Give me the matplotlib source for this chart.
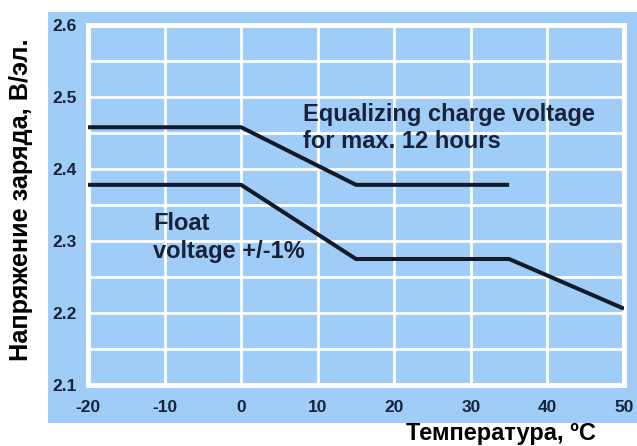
import matplotlib
matplotlib.use("Agg")
import matplotlib.pyplot as plt
from matplotlib.patches import Rectangle

# Data
eq_temp = [-20, 0, 15, 35]
eq_volt = [2.458, 2.458, 2.378, 2.378]
fl_temp = [-20, 0, 15, 35, 50]
fl_volt = [2.378, 2.378, 2.275, 2.275, 2.206]
x_ticks = [-20, -10, 0, 10, 20, 30, 40, 50]
y_ticks = [2.1, 2.2, 2.3, 2.4, 2.5, 2.6]
y_grid = [2.15, 2.25, 2.35, 2.45, 2.55]

W, H = 637, 446
BLUE = "#9fcdf8"
NAVY = "#18223a"
plt.rcParams['font.family'] = ['Liberation Sans', 'DejaVu Sans']

fig = plt.figure(figsize=(W / 100, H / 100), dpi=100)
fig.patch.set_facecolor("white")
bg = Rectangle((48 / W, (H - 423) / H), (W - 48) / W, (423 - 12) / H,
               transform=fig.transFigure, facecolor=BLUE,
               edgecolor="none", zorder=-10)
fig.patches.append(bg)

ax = fig.add_axes([88 / W, (H - 385) / H, (624 - 88) / W, (385 - 25) / H])
ax.set_zorder(1)
ax.set_facecolor(BLUE)
ax.set_xlim(-20, 50)
ax.set_ylim(2.1, 2.6)

for x in x_ticks[1:-1]:
    ax.axvline(x, color="white", lw=2, zorder=1)
for y in y_ticks[1:-1] + y_grid:
    ax.axhline(y, color="white", lw=2, zorder=1)
for s in ax.spines.values():
    s.set_color("white")
    s.set_linewidth(3.5)

ax.plot(eq_temp, eq_volt, color="#141b28", lw=2.9, zorder=3, solid_capstyle="butt")
ax.plot(fl_temp, fl_volt, color="#141b28", lw=2.9, zorder=3, solid_capstyle="butt")

ax.set_xticks(x_ticks)
ax.set_xticklabels([str(t) for t in x_ticks])
ax.set_yticks(y_ticks)
ax.set_yticklabels([f"{t:.1f}" for t in y_ticks])
ax.tick_params(length=0, labelsize=12.5, labelcolor=NAVY)
for lab in ax.get_xticklabels() + ax.get_yticklabels():
    lab.set_fontweight("bold")
ax.tick_params(axis="x", pad=11)
ax.tick_params(axis="y", pad=8)

ax.text(8.1, 2.457, "Equalizing charge voltage\nfor max. 12 hours",
        fontsize=17, fontweight="bold", color=NAVY, va="center", ha="left",
        linespacing=1.27, zorder=4)
ax.text(-11.5, 2.305, "Float\nvoltage +/-1%",
        fontsize=17, fontweight="bold", color=NAVY, va="center", ha="left",
        linespacing=1.27, zorder=4)

fig.text(21 / W, 1 - 200 / H, "Напряжение заряда, В/эл.", rotation=90,
         fontsize=18.2, fontweight="bold", color="black", ha="center", va="center")
fig.text(501 / W, 1 - 440 / H, "Температура, ºC",
         fontsize=17, fontweight="bold", color="black", ha="center", va="baseline")

fig.savefig("out.png", dpi=100, facecolor="white")
